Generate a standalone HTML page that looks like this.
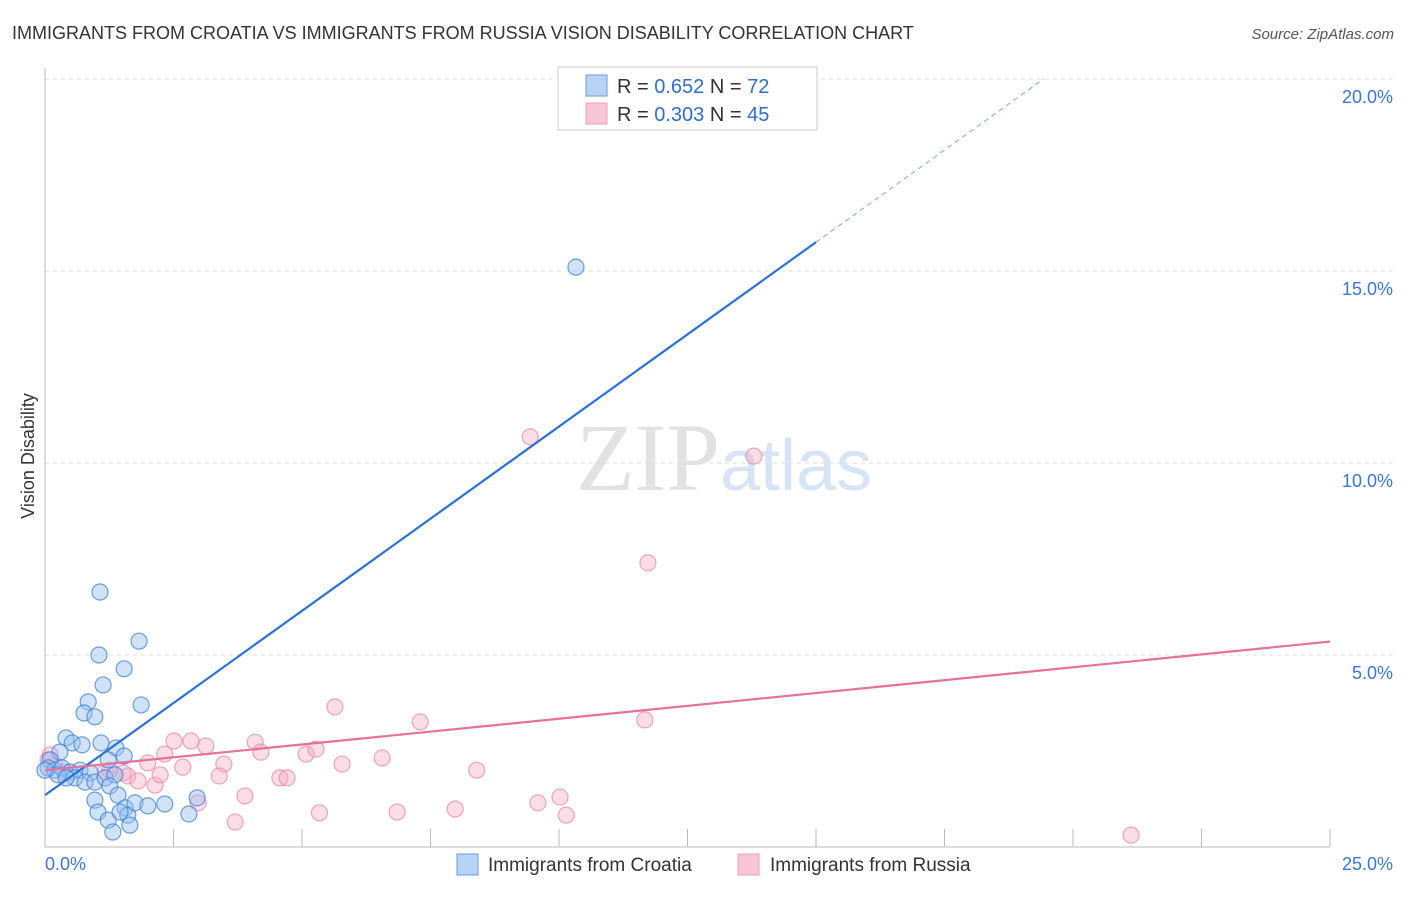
<!DOCTYPE html>
<html><head><meta charset="utf-8"><style>
body{margin:0;background:#fff;font-family:"Liberation Sans",sans-serif;}
</style></head><body>
<svg width="1406" height="892" xmlns="http://www.w3.org/2000/svg" font-family="Liberation Sans, sans-serif">
<text x="12" y="39" font-size="18" fill="#333">IMMIGRANTS FROM CROATIA VS IMMIGRANTS FROM RUSSIA VISION DISABILITY CORRELATION CHART</text>
<text x="1394" y="39" font-size="15" fill="#555" font-style="italic" text-anchor="end">Source: ZipAtlas.com</text>
<text x="34" y="456" font-size="18" fill="#333" text-anchor="middle" transform="rotate(-90 34 456)">Vision Disability</text>
<g id="grid"></g>
<text x="720" y="490" font-size="96" fill="#e2e2e2" text-anchor="end" font-family="Liberation Serif, serif">ZIP</text>
<text x="720" y="490" font-size="72" fill="#d6e4f5">atlas</text>
<g id="pts"></g>
<g id="lines"></g>
<g>
<rect x="558" y="67" width="259" height="63" fill="#fff" stroke="#ccc"/>
<rect x="586" y="75" width="21" height="21" fill="#b7d2f3" stroke="#6a9ee0"/>
<rect x="586" y="103" width="21" height="21" fill="#f9c6d6" stroke="#eca0b8"/>
<text x="617" y="93" font-size="20" fill="#333">R = <tspan fill="#2f6fd0">0.652</tspan>   N = <tspan fill="#2f6fd0">72</tspan></text>
<text x="617" y="121" font-size="20" fill="#333">R = <tspan fill="#2f6fd0">0.303</tspan>   N = <tspan fill="#2f6fd0">45</tspan></text>
</g>
<g>
<rect x="457" y="854" width="21" height="21" fill="#b7d2f3" stroke="#6a9ee0"/>
<text x="488" y="871" font-size="19" fill="#333">Immigrants from Croatia</text>
<rect x="738" y="854" width="21" height="21" fill="#f9c6d6" stroke="#eca0b8"/>
<text x="770" y="871" font-size="19" fill="#333">Immigrants from Russia</text>
</g>
<text x="45" y="870" font-size="18" fill="#3a78d6">0.0%</text>
<text x="1393" y="870" font-size="18" fill="#3a78d6" text-anchor="end">25.0%</text>
</svg>
<script>
const NS="http://www.w3.org/2000/svg";
const yTicks=[5,10,15,20];
const yTickLabels=["5.0%","10.0%","15.0%","20.0%"];
const croatiaX=[10.33,1.07,1.05,1.83,1.54,1.13,1.87,0.84,0.76,0.97,0.41,0.53,0.72,1.09,1.38,1.54,1.23,0.29,0.10,0.06,0.19,0.33,0.49,0.68,0.88,0.58,0.78,0.97,1.17,1.36,1.26,0.97,1.03,1.42,1.23,1.32,1.56,1.61,1.65,1.75,2.0,2.33,2.80,2.96,1.46,0.25,0.41,0.0];
const croatiaY=[15.1,6.64,5.0,5.36,4.64,4.22,3.70,3.78,3.49,3.39,2.84,2.71,2.66,2.71,2.58,2.37,2.27,2.47,2.27,2.06,2.0,2.06,1.95,2.0,1.93,1.80,1.69,1.69,1.80,1.88,1.59,1.22,0.91,1.35,0.70,0.39,1.02,0.83,0.57,1.15,1.07,1.12,0.86,1.28,0.91,1.88,1.80,2.0];
const russiaX=[9.44,13.79,11.73,5.64,7.30,11.67,2.51,2.84,3.13,2.33,4.09,4.20,5.08,5.27,6.56,5.78,3.48,2.68,2.0,3.39,4.57,4.71,8.40,1.52,1.61,1.81,2.14,3.89,2.98,5.34,3.70,6.85,7.98,9.59,10.02,10.14,21.13,0.10,0.19,1.17,0.39,0.06,1.26,2.24];
const russiaY=[10.68,10.18,7.40,3.65,3.26,3.31,2.76,2.76,2.63,2.42,2.73,2.47,2.42,2.55,2.32,2.16,2.16,2.08,2.19,1.85,1.80,1.80,2.0,1.93,1.85,1.72,1.61,1.33,1.15,0.89,0.65,0.91,0.99,1.15,1.30,0.83,0.31,2.40,2.14,1.95,1.95,2.27,2.0,1.88];
const croatiaTrend=[1.35,0.96];
const russiaTrend=[2.0,0.134];
const X0=45,X1=1330,Y0=847,PXY=192/5;
const sx=v=>X0+v/25*(X1-X0), sy=v=>Y0-v*PXY;
function mk(t,a,p){const e=document.createElementNS(NS,t);for(const k in a)e.setAttribute(k,a[k]);p.appendChild(e);return e;}
const grid=document.getElementById('grid');
const ax=mk('line',{x1:X0,y1:68,x2:X0,y2:Y0,stroke:'#bbb'},grid);


const bx=mk('line',{x1:X0,y1:Y0,x2:X1,y2:Y0,stroke:'#bbb'},grid);


for(let i=1;i<=10;i++){const x=sx(i*2.5);const t=mk('line',{x1:x,y1:Y0,x2:x,y2:829,stroke:'#bbb'},grid);

}
yTicks.forEach((v,i)=>{const y=sy(v);const g=mk('line',{x1:X0,y1:y,x2:1394,y2:y,stroke:'#ddd','stroke-dasharray':'4,4'},grid);


const t=mk('text',{x:1393,y:y+24,'font-size':18,fill:'#3a78d6','text-anchor':'end'},grid);t.textContent=yTickLabels[i];

});
const pts=document.getElementById('pts');
russiaX.forEach((x,i)=>{const c=mk('circle',{cx:sx(x),cy:sy(russiaY[i]),r:8,fill:'rgba(246,170,196,0.4)',stroke:'rgba(232,130,165,0.7)','stroke-width':1.2},pts);

});
croatiaX.forEach((x,i)=>{const c=mk('circle',{cx:sx(x),cy:sy(croatiaY[i]),r:8,fill:'rgba(150,190,240,0.45)',stroke:'rgba(60,130,215,0.75)','stroke-width':1.2},pts);

});
const L=document.getElementById('lines');
const f=(tr,x)=>tr[0]+tr[1]*x;
const b1=mk('line',{x1:sx(0),y1:sy(f(croatiaTrend,0)),x2:sx(15),y2:sy(f(croatiaTrend,15)),stroke:'#2a72d6','stroke-width':2.2},L);


const xe=(20-croatiaTrend[0])/croatiaTrend[1];
const b2=mk('line',{x1:sx(15),y1:sy(f(croatiaTrend,15)),x2:sx(xe),y2:sy(20),stroke:'#7aa8e6','stroke-width':1,'stroke-dasharray':'5,4'},L);


const r1=mk('line',{x1:sx(0),y1:sy(f(russiaTrend,0)),x2:sx(25),y2:sy(f(russiaTrend,25)),stroke:'#e8709a','stroke-width':2.2},L);


</script>
</body></html>
